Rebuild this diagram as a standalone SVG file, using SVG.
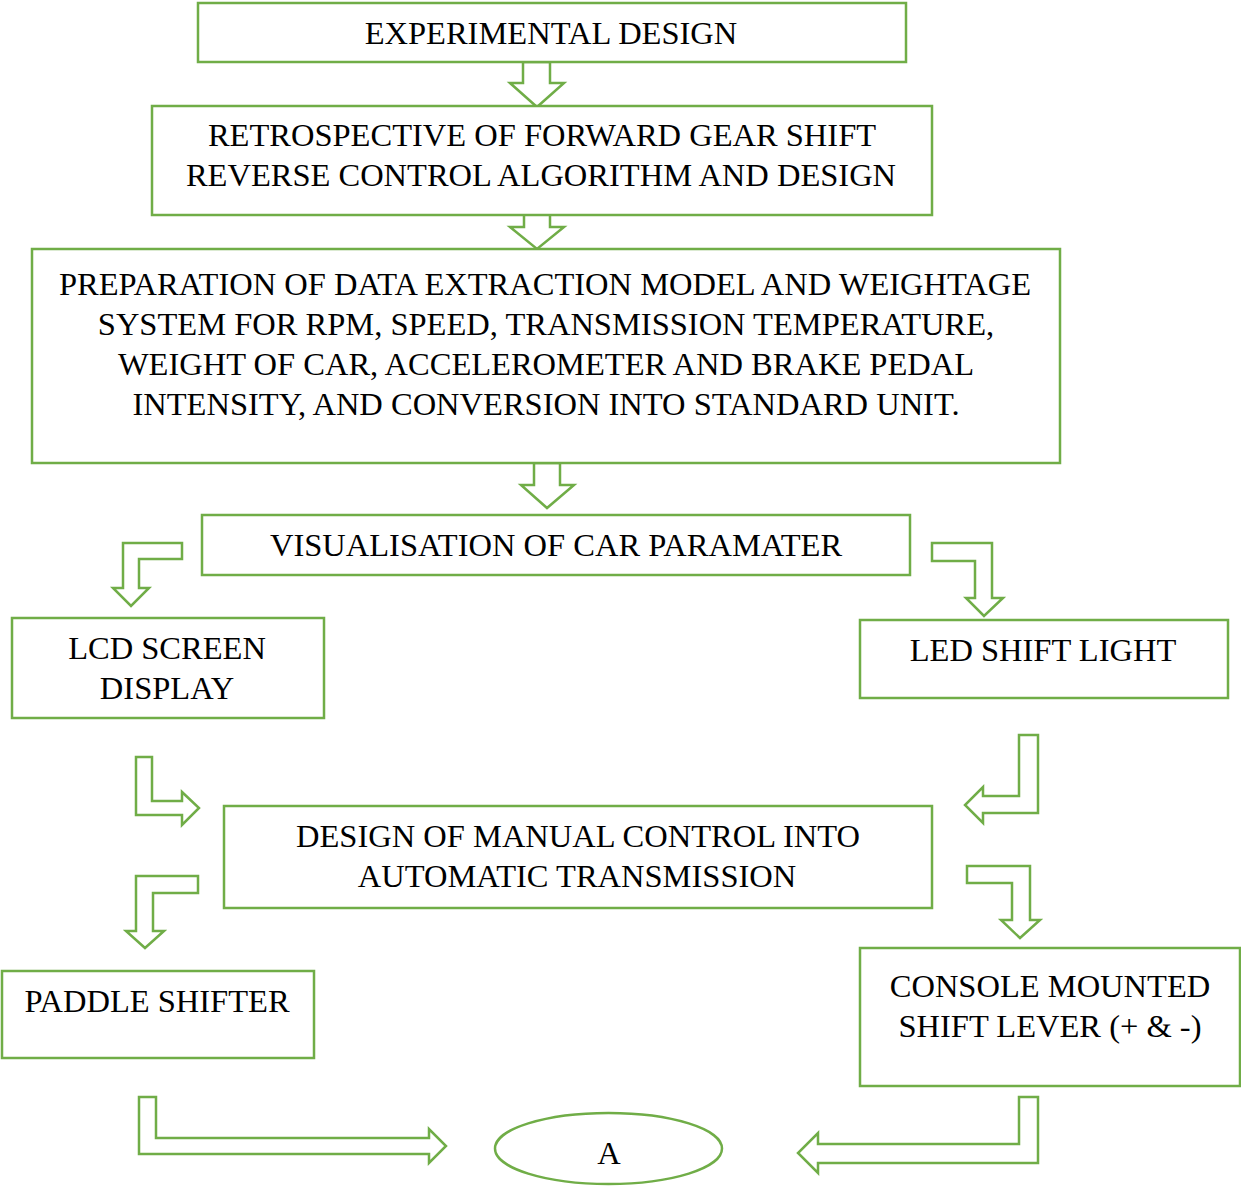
<svg xmlns="http://www.w3.org/2000/svg" width="1241" height="1187" viewBox="0 0 1241 1187">
<style>
.box{fill:#fff;stroke:#70AD47;stroke-width:2.5}
.arr{fill:#fff;stroke:#70AD47;stroke-width:2.5;stroke-linejoin:miter}
text{font-family:"Liberation Serif","Times New Roman",serif;font-size:32.5px;fill:#000;text-anchor:middle}
</style>
<rect width="1241" height="1187" fill="#fff"/>
<g id="connectors">
<path class="arr" d="M523,62 L550,62 L550,83 L564,83 L537,107 L510,83 L523,83 Z"/>
<path class="arr" d="M524,206 L550,206 L550,227 L564,227 L537,249 L510,227 L524,227 Z"/>
<path class="arr" d="M534,463 L560,463 L560,485 L574,485 L547,508 L521,485 L534,485 Z"/>
<path class="arr" d="M182,543 L123,543 L123,588 L113,588 L131,606 L149,588 L139,588 L139,559 L182,559 Z"/>
<path class="arr" d="M932,543 L992,543 L992,598 L1003,598 L984,616 L966,598 L975,598 L975,561 L932,561 Z"/>
<path class="arr" d="M136,757 L152,757 L152,801 L182,801 L182,792 L199,808 L182,825 L182,815 L136,815 Z"/>
<path class="arr" d="M1019,735 L1038,735 L1038,813 L983,813 L983,823 L965,805 L983,787 L983,796 L1019,796 Z"/>
<path class="arr" d="M198,876 L136,876 L136,931 L126,931 L145,948 L164,931 L153,931 L153,893 L198,893 Z"/>
<path class="arr" d="M967,866 L1030,866 L1030,920 L1040,920 L1020,938 L1001,920 L1012,920 L1012,883 L967,883 Z"/>
<path class="arr" d="M139,1097 L156,1097 L156,1138 L429,1138 L429,1129 L446,1146 L429,1163 L429,1154 L139,1154 Z"/>
<path class="arr" d="M1019,1097 L1038,1097 L1038,1163 L818,1163 L818,1173 L798,1153 L818,1133 L818,1144 L1019,1144 Z"/>
</g>
<g id="n1"><rect class="box" x="198" y="3" width="708" height="59"/><text x="551" y="44">EXPERIMENTAL DESIGN</text></g>
<g id="n2"><rect class="box" x="152" y="106" width="780" height="109"/><text x="542" y="146">RETROSPECTIVE OF FORWARD GEAR SHIFT</text><text x="541" y="186">REVERSE CONTROL ALGORITHM AND DESIGN</text></g>
<g id="n3"><rect class="box" x="32" y="249" width="1028" height="214"/><text x="545" y="295">PREPARATION OF DATA EXTRACTION MODEL AND WEIGHTAGE</text><text x="546" y="335">SYSTEM FOR RPM, SPEED, TRANSMISSION TEMPERATURE,</text><text x="546" y="375">WEIGHT OF CAR, ACCELEROMETER AND BRAKE PEDAL</text><text x="546" y="415">INTENSITY, AND CONVERSION INTO STANDARD UNIT.</text></g>
<g id="n4"><rect class="box" x="202" y="515" width="708" height="60"/><text x="556" y="556">VISUALISATION OF CAR PARAMATER</text></g>
<g id="n5"><rect class="box" x="12" y="618" width="312" height="100"/><text x="167" y="659">LCD SCREEN</text><text x="167" y="699">DISPLAY</text></g>
<g id="n6"><rect class="box" x="860" y="620" width="368" height="78"/><text x="1043" y="661">LED SHIFT LIGHT</text></g>
<g id="n7"><rect class="box" x="224" y="806" width="708" height="102"/><text x="578" y="847">DESIGN OF MANUAL CONTROL INTO</text><text x="577" y="887">AUTOMATIC TRANSMISSION</text></g>
<g id="n8"><rect class="box" x="2" y="971" width="312" height="87"/><text x="157" y="1012">PADDLE SHIFTER</text></g>
<g id="n9"><rect class="box" x="860" y="948" width="380" height="138"/><text x="1050" y="997">CONSOLE MOUNTED</text><text x="1050" y="1037">SHIFT LEVER (+ &amp; -)</text></g>
<g id="n10"><ellipse class="box" cx="608.5" cy="1148.5" rx="113.5" ry="35.5"/><text x="609" y="1164">A</text></g>
</svg>
